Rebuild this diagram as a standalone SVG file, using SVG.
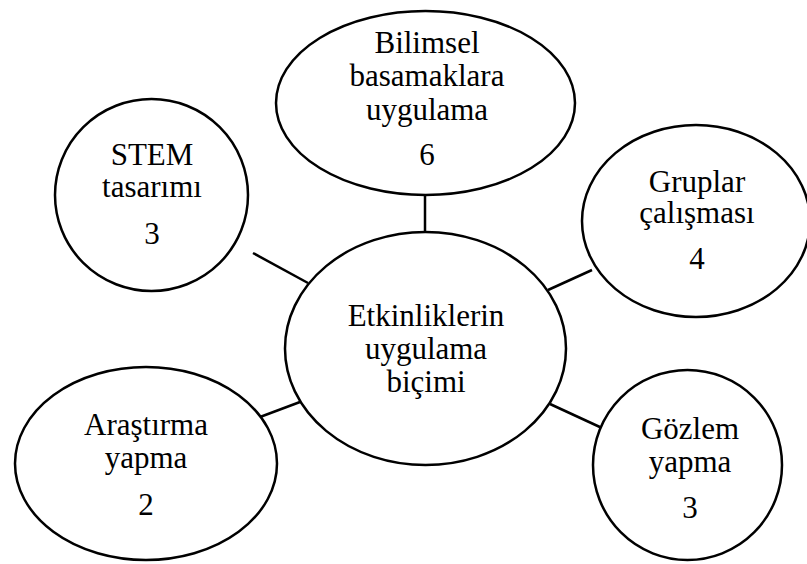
<svg xmlns="http://www.w3.org/2000/svg" width="807" height="564" viewBox="0 0 807 564">
  <style>
    .node ellipse { fill: #ffffff; stroke: #000000; stroke-width: 2.5; }
    .links line { stroke: #000000; stroke-width: 2.5; }
    text { font-family: "Liberation Serif", "Times New Roman", serif; font-size: 31px; fill: #000000; text-anchor: middle; }
  </style>
  <rect width="807" height="564" fill="#ffffff"/>

  <!-- connectors from the central node to each activity -->
  <g id="connectors" class="links">
    <line x1="425" y1="195" x2="425" y2="232"/>
    <line x1="253" y1="253" x2="308" y2="283"/>
    <line x1="548" y1="290" x2="592" y2="270"/>
    <line x1="260" y1="417" x2="300" y2="402"/>
    <line x1="550" y1="404" x2="602" y2="428"/>
  </g>

  <g id="center" class="node">
    <ellipse cx="425.5" cy="348.5" rx="140.5" ry="116.5"/>
    <text x="426" y="326">Etkinliklerin</text>
    <text x="426" y="359">uygulama</text>
    <text x="426" y="392">biçimi</text>
  </g>

  <g id="bilimsel" class="node">
    <ellipse cx="425.5" cy="103" rx="149.5" ry="92"/>
    <text x="427" y="53">Bilimsel</text>
    <text x="427" y="86">basamaklara</text>
    <text x="427" y="120">uygulama</text>
    <text x="427" y="165">6</text>
  </g>

  <g id="stem" class="node">
    <ellipse cx="151.5" cy="195" rx="96.5" ry="96"/>
    <text x="152" y="165">STEM</text>
    <text x="152" y="197">tasarımı</text>
    <text x="152" y="244">3</text>
  </g>

  <g id="gruplar" class="node">
    <ellipse cx="696" cy="221" rx="114" ry="96"/>
    <text x="697" y="192">Gruplar</text>
    <text x="697" y="223">çalışması</text>
    <text x="697" y="269">4</text>
  </g>

  <g id="arastirma" class="node">
    <ellipse cx="146" cy="463.5" rx="131" ry="96.5"/>
    <text x="146" y="435">Araştırma</text>
    <text x="146" y="468">yapma</text>
    <text x="146" y="515">2</text>
  </g>

  <g id="gozlem" class="node">
    <ellipse cx="687.5" cy="465" rx="94.5" ry="95"/>
    <text x="690" y="439">Gözlem</text>
    <text x="690" y="472">yapma</text>
    <text x="690" y="518">3</text>
  </g>
</svg>
